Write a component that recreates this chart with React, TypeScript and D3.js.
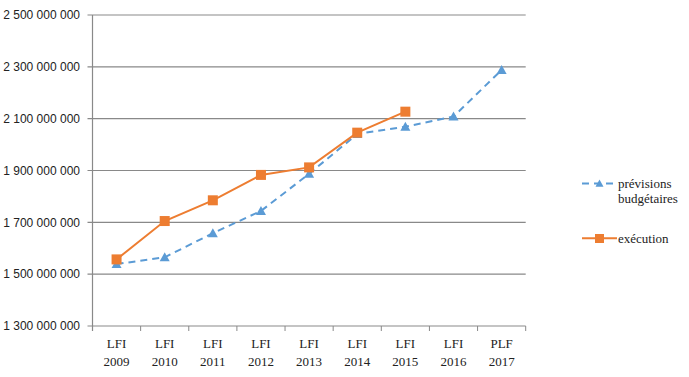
import React from "react";
import * as d3 from "d3";

const categories = [
  ["LFI", "2009"], ["LFI", "2010"], ["LFI", "2011"], ["LFI", "2012"], ["LFI", "2013"],
  ["LFI", "2014"], ["LFI", "2015"], ["LFI", "2016"], ["PLF", "2017"],
];
const previsions = [1539e6, 1565e6, 1658e6, 1744e6, 1887e6, 2041e6, 2069e6, 2108e6, 2288e6];
const execution = [1557e6, 1705e6, 1785e6, 1883e6, 1912e6, 2046e6, 2127e6];
const yTicks = [1300e6, 1500e6, 1700e6, 1900e6, 2100e6, 2300e6, 2500e6];

const W = 689, H = 377;
const left = 92.5, right = 525.7, top = 15, bottom = 326;
const BLUE = "#5B9BD5", ORANGE = "#ED7D31", GRID = "#898989";

const fmt = (v: number) => {
  const s = Math.round(v).toString();
  return s.replace(/\B(?=(\d{3})+(?!\d))/g, " ");
};

export default function App() {
  const x = d3.scaleBand<number>().domain(categories.map((_, i) => i)).range([left, right]);
  const y = d3.scaleLinear().domain([1300e6, 2500e6]).range([bottom, top]);
  const cx = (i: number) => (x(i) as number) + x.bandwidth() / 2;
  const line = d3.line<number>().x((_, i) => cx(i)).y((d) => y(d));
  const tri = (px: number, py: number, s = 5) =>
    `M${px},${py - s} L${px + s},${py + s * 0.8} L${px - s},${py + s * 0.8} Z`;

  return (
    <svg width={W} height={H} style={{ position: "absolute", left: 0, top: 0, background: "#fff" }}>
      {yTicks.map((t) => (
        <g key={t}>
          <line x1={left - 5} x2={right} y1={y(t)} y2={y(t)} stroke={GRID} strokeWidth={1.2} />
          <text x={80} y={y(t)} dy="0.35em" textAnchor="end" fontFamily="Liberation Sans, Arial, sans-serif" fontSize={12} fill="#222">
            {fmt(t)}
          </text>
        </g>
      ))}
      <line x1={left} x2={left} y1={top} y2={bottom + 5} stroke={GRID} strokeWidth={1.2} />
      {categories.map((c, i) => (
        <g key={i}>
          <line x1={(x(i) as number) + x.bandwidth()} x2={(x(i) as number) + x.bandwidth()} y1={bottom} y2={bottom + 5} stroke={GRID} strokeWidth={1} />
          <text x={cx(i)} y={343} dy="0.35em" textAnchor="middle" fontFamily="Liberation Serif, Times New Roman, serif" fontSize={13} fill="#222">{c[0]}</text>
          <text x={cx(i)} y={361.5} dy="0.35em" textAnchor="middle" fontFamily="Liberation Serif, Times New Roman, serif" fontSize={13} fill="#222">{c[1]}</text>
        </g>
      ))}
      <path d={line(previsions) || ""} fill="none" stroke={BLUE} strokeWidth={2} strokeDasharray="7,5" />
      {previsions.map((v, i) => (
        <path key={i} d={tri(cx(i), y(v))} fill={BLUE} />
      ))}
      <path d={line(execution) || ""} fill="none" stroke={ORANGE} strokeWidth={2} />
      {execution.map((v, i) => (
        <rect key={i} x={cx(i) - 5} y={y(v) - 5} width={10} height={10} fill={ORANGE} />
      ))}
      {/* legend */}
      <line x1={582} x2={617} y1={183.5} y2={183.5} stroke={BLUE} strokeWidth={2} strokeDasharray="7,5" />
      <path d={tri(599.5, 183.5, 4)} fill={BLUE} />
      <text x={618} y={183.5} dy="0.35em" fontFamily="Liberation Serif, Times New Roman, serif" fontSize={13} fill="#222">prévisions</text>
      <text x={618} y={198} dy="0.35em" fontFamily="Liberation Serif, Times New Roman, serif" fontSize={13} fill="#222">budgétaires</text>
      <line x1={582} x2={617} y1={238.3} y2={238.3} stroke={ORANGE} strokeWidth={2} />
      <rect x={595} y={234} width={9} height={9} fill={ORANGE} />
      <text x={618} y={238.3} dy="0.35em" fontFamily="Liberation Serif, Times New Roman, serif" fontSize={13} fill="#222">exécution</text>
    </svg>
  );
}
